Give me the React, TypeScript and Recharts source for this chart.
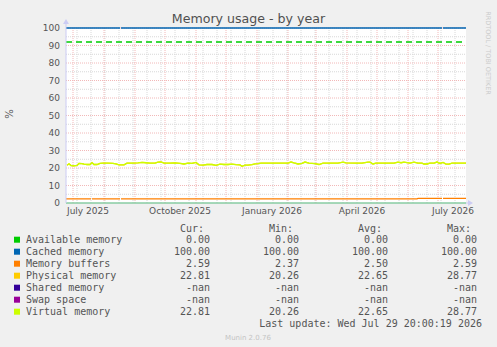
import { LineChart, Line, XAxis, YAxis, ReferenceLine, CartesianGrid } from 'recharts';

const FONT = '"DejaVu Sans", sans-serif';
const MONO = '"DejaVu Sans Mono", monospace';

const chartTitle = 'Memory usage - by year';
const yAxisLabel = '%';
const rrdCredit = 'RRDTOOL / TOBI OETIKER';
const lastUpdate = 'Last update: Wed Jul 29 20:00:19 2026';
const muninVersion = 'Munin 2.0.76';

// x range of the year view
const rangeStart = '2025-06-24';
const rangeEnd = '2026-07-29';

// x axis labels sit mid-month
const xTickDates = ['2025-07-16', '2025-10-16', '2026-01-16', '2026-04-16', '2026-07-16'];
const xTickLabels = ['July 2025', 'October 2025', 'January 2026', 'April 2026', 'July 2026'];
const yTicks = [0, 10, 20, 30, 40, 50, 60, 70, 80, 90, 100];

// grid
const monthStarts = [
  '2025-07-01', '2025-08-01', '2025-09-01', '2025-10-01', '2025-11-01', '2025-12-01', '2026-01-01',
  '2026-02-01', '2026-03-01', '2026-04-01', '2026-05-01', '2026-06-01', '2026-07-01',
];
const minorDates = [
  '2025-07-05', '2025-07-19', '2025-08-02', '2025-08-16', '2025-08-30', '2025-09-13', '2025-09-27',
  '2025-10-11', '2025-10-25', '2025-11-08', '2025-11-22', '2025-12-06', '2025-12-20', '2026-01-03',
  '2026-01-17', '2026-01-31', '2026-02-14', '2026-02-28', '2026-03-14', '2026-03-28', '2026-04-11',
  '2026-04-25', '2026-05-09', '2026-05-23', '2026-06-06', '2026-06-20', '2026-07-04', '2026-07-18',
];
const majorY = [10, 20, 30, 40, 50, 60, 70, 80, 90, 100];
const minorY = [5, 15, 25, 35, 45, 55, 65, 75, 85, 95];
const dashedRuleValue = 92;

// series
const availableDates = ['2025-06-24', '2026-07-29'];
const availableMemory = [0, 0];

const cachedDates = [
  '2025-06-24', '2025-08-17', '2025-08-17T12:00:00Z', '2025-08-18',
  '2026-07-05', '2026-07-05T12:00:00Z', '2026-07-06', '2026-07-29',
];
const cachedMemory = [100, 100, null, 100, 100, null, 100, 100];

const buffersDates = [
  '2025-06-24', '2025-07-19', '2025-07-19T12:00:00Z', '2025-07-20', '2025-08-17', '2025-08-17T12:00:00Z', '2025-08-18',
  '2026-06-10', '2026-06-11', '2026-07-05', '2026-07-05T12:00:00Z', '2026-07-06', '2026-07-29',
];
const memoryBuffers = [2.4, 2.4, null, 2.4, 2.4, null, 2.4, 2.4, 2.59, 2.59, null, 2.59, 2.59];

const virtualDates = [
  '2025-06-25', '2025-06-27', '2025-06-29', '2025-07-02', '2025-07-05', '2025-07-07', '2025-07-10', '2025-07-12', '2025-07-15', '2025-07-18',
  '2025-07-20', '2025-07-22', '2025-07-25', '2025-07-28', '2025-07-31', '2025-08-05', '2025-08-10', '2025-08-13', '2025-08-16', '2025-08-21',
  '2025-08-24', '2025-08-30', '2025-09-04', '2025-09-08', '2025-09-12', '2025-09-16', '2025-09-21', '2025-09-24', '2025-09-27', '2025-09-30',
  '2025-10-06', '2025-10-11', '2025-10-16', '2025-10-20', '2025-10-24', '2025-10-28', '2025-11-01', '2025-11-04', '2025-11-08', '2025-11-12',
  '2025-11-17', '2025-11-21', '2025-11-25', '2025-11-29', '2025-12-03', '2025-12-07', '2025-12-11', '2025-12-15', '2025-12-17', '2025-12-20',
  '2025-12-23', '2025-12-27', '2025-12-30', '2026-01-02', '2026-01-05', '2026-01-14', '2026-01-24', '2026-02-01', '2026-02-04', '2026-02-07',
  '2026-02-11', '2026-02-15', '2026-02-18', '2026-02-22', '2026-02-28', '2026-03-04', '2026-03-08', '2026-03-15', '2026-03-23', '2026-03-28',
  '2026-03-31', '2026-04-09', '2026-04-16', '2026-04-22', '2026-04-24', '2026-04-27', '2026-04-30', '2026-05-09', '2026-05-18', '2026-05-22',
  '2026-05-25', '2026-05-28', '2026-05-31', '2026-06-03', '2026-06-07', '2026-06-11', '2026-06-15', '2026-06-17', '2026-06-20', '2026-06-23',
  '2026-06-27', '2026-06-30', '2026-07-03', '2026-07-06', '2026-07-09', '2026-07-12', '2026-07-15', '2026-07-21', '2026-07-29',
];
const virtualMemory = [
  21.6, 22.4, 21.4, 21.3, 21.5, 22.6, 22.5, 22.2, 22.0, 22.0,
  23.1, 22.0, 22.0, 22.7, 22.8, 22.8, 22.7, 22.3, 21.8, 21.8,
  22.8, 22.8, 22.9, 23.2, 23.0, 22.8, 22.8, 23.4, 23.5, 22.8,
  22.8, 22.9, 22.6, 22.3, 22.8, 22.6, 23.2, 21.8, 21.7, 22.0,
  22.0, 21.5, 22.2, 22.0, 22.0, 22.2, 21.9, 21.8, 21.0, 21.6,
  21.7, 21.9, 22.3, 22.5, 22.8, 22.8, 22.8, 22.8, 23.4, 22.9,
  22.3, 22.6, 23.4, 22.8, 22.5, 22.0, 22.8, 22.8, 22.8, 23.4,
  22.9, 22.8, 22.8, 23.4, 23.3, 22.3, 22.8, 22.8, 22.8, 23.3,
  23.0, 23.4, 23.1, 22.8, 23.3, 22.8, 22.8, 22.3, 22.3, 22.8,
  22.8, 23.4, 22.6, 23.2, 22.2, 22.2, 22.8, 22.8, 22.8,
];
// physical memory reads exactly the same as virtual memory on this host
const physicalMemory = virtualMemory;

// legend table
const legendNames = ['Available memory', 'Cached memory', 'Memory buffers', 'Physical memory', 'Shared memory', 'Swap space', 'Virtual memory'];
const legendColors = ['#00cc00', '#0066b3', '#ff8000', '#ffcc00', '#330099', '#990099', '#ccff00'];
const curValues = ['0.00', '100.00', '2.59', '22.81', '-nan', '-nan', '22.81'];
const minValues = ['0.00', '100.00', '2.37', '20.26', '-nan', '-nan', '20.26'];
const avgValues = ['0.00', '100.00', '2.50', '22.65', '-nan', '-nan', '22.65'];
const maxValues = ['0.00', '100.00', '2.59', '28.77', '-nan', '-nan', '28.77'];

const t = (d: string) => Date.parse(d);
const toPoints = (dates: string[], values: (number | null)[]) => dates.map((d, i) => ({ t: t(d), v: values[i] }));

const MAJOR = '#f2b8b8';
const MINOR = '#d8d8d8';
const AXIS = '#ccccf4';
const TEXT = '#555';

export default function App() {
  const columns = [
    { head: 'Cur:', values: curValues, right: 210 },
    { head: 'Min:', values: minValues, right: 299 },
    { head: 'Avg:', values: avgValues, right: 388 },
    { head: 'Max:', values: maxValues, right: 477 },
  ];

  return (
    <div style={{ position: 'fixed', left: 0, top: 0, width: 497, height: 347, background: '#f0f0f0', overflow: 'hidden' }}>
      <LineChart width={497} height={347} margin={{ top: 28, right: 31, bottom: 124, left: 26 }}>
        <CartesianGrid horizontal={false} vertical={false} fill="#ffffff" />
        <XAxis
          dataKey="t"
          type="number"
          domain={[t(rangeStart), t(rangeEnd)]}
          allowDataOverflow
          ticks={xTickDates.map(t)}
          tickFormatter={(v) => xTickLabels[xTickDates.map(t).indexOf(v)] ?? ''}
          height={20}
          tickLine={false}
          tickSize={0}
          tickMargin={5}
          axisLine={{ stroke: AXIS }}
          tick={{ fontSize: 9, fill: TEXT, fontFamily: FONT }}
          interval={0}
        />
        <YAxis
          type="number"
          domain={[0, 100]}
          ticks={yTicks}
          width={40}
          tickLine={false}
          tickSize={0}
          tickMargin={6}
          axisLine={{ stroke: AXIS }}
          tick={{ fontSize: 9, fill: TEXT, fontFamily: FONT }}
          interval={0}
        />
        {minorY.map((v) => (
          <ReferenceLine key={'my' + v} y={v} stroke={MINOR} strokeDasharray="1 1" />
        ))}
        {minorDates.map((d) => (
          <ReferenceLine key={'mx' + d} x={t(d)} stroke={MINOR} strokeDasharray="1 1" />
        ))}
        {majorY.map((v) => (
          <ReferenceLine key={'My' + v} y={v} stroke={MAJOR} strokeDasharray="1 1" />
        ))}
        {monthStarts.map((d) => (
          <ReferenceLine key={'Mx' + d} x={t(d)} stroke={MAJOR} strokeDasharray="1 1" />
        ))}
        <ReferenceLine y={dashedRuleValue} stroke="#00cc00" strokeWidth={1.6} strokeDasharray="6 4" />
        <Line data={toPoints(availableDates, availableMemory)} dataKey="v" stroke="#00cc00" strokeWidth={1} dot={false} isAnimationActive={false} />
        <Line data={toPoints(cachedDates, cachedMemory)} dataKey="v" stroke="#0066b3" strokeWidth={1.3} dot={false} isAnimationActive={false} />
        <Line data={toPoints(buffersDates, memoryBuffers)} dataKey="v" stroke="#ff8000" strokeWidth={1.3} dot={false} isAnimationActive={false} />
        <Line data={toPoints(virtualDates, physicalMemory)} dataKey="v" stroke="#ffcc00" strokeWidth={1.3} dot={false} isAnimationActive={false} />
        <Line data={toPoints(virtualDates, virtualMemory)} dataKey="v" stroke="#ccff00" strokeWidth={1.3} dot={false} isAnimationActive={false} />
      </LineChart>

      <svg width={497} height={347} style={{ position: 'absolute', left: 0, top: 0, pointerEvents: 'none' }}>
        {/* axis arrows */}
        <line x1={66} y1={28} x2={66} y2={22} stroke={AXIS} />
        <polygon points="63,24 69,24 66,19" fill={AXIS} />
        <line x1={466} y1={203} x2={470} y2={203} stroke={AXIS} />
        <polygon points="468,200 468,206 473,203" fill={AXIS} />

        <text x={248.5} y={22.5} textAnchor="middle" fontFamily={FONT} fontSize={12.6} fill="#505050">
          {chartTitle}
        </text>
        <text x={13} y={114} textAnchor="middle" fontFamily={FONT} fontSize={10} fill={TEXT} transform="rotate(-90 13 114)">
          {yAxisLabel}
        </text>
        <text x={485.5} y={53} textAnchor="middle" fontFamily={FONT} fontSize={6.5} fill="#cccccc" transform="rotate(90 485.5 53)">
          {rrdCredit}
        </text>

        {columns.map((c) => (
          <text key={c.head} x={c.right - 6} y={231.5} textAnchor="end" fontFamily={MONO} fontSize={10} fill={TEXT}>
            {c.head}
          </text>
        ))}
        {legendNames.map((name, i) => (
          <g key={name}>
            <rect x={14} y={236.7 + i * 12} width={6} height={6} fill={legendColors[i]} />
            <text x={26} y={243.3 + i * 12} fontFamily={MONO} fontSize={10} fill={TEXT}>
              {name}
            </text>
            {columns.map((c) => (
              <text key={c.head} x={c.right} y={243.3 + i * 12} textAnchor="end" fontFamily={MONO} fontSize={10} fill={TEXT}>
                {c.values[i]}
              </text>
            ))}
          </g>
        ))}
        <text x={482} y={327} textAnchor="end" fontFamily={MONO} fontSize={10} fill={TEXT}>
          {lastUpdate}
        </text>
        <text x={248} y={339.5} textAnchor="middle" fontFamily={FONT} fontSize={7} fill="#c4c4c4">
          {muninVersion}
        </text>
      </svg>
    </div>
  );
}
